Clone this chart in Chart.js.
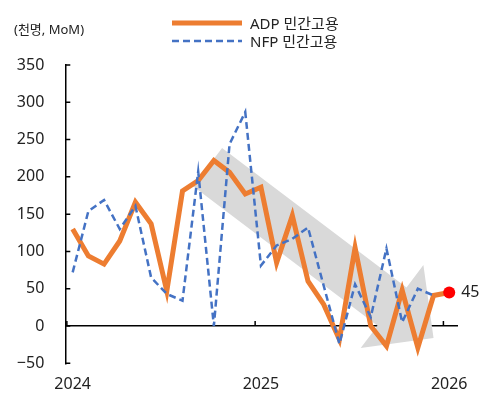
<!DOCTYPE html>
<html>
<head>
<meta charset="utf-8">
<script src="https://cdn.jsdelivr.net/npm/chart.js@4.4.1/dist/chart.umd.min.js"></script>
<style>
  html, body { margin: 0; padding: 0; background: #fff; }
  #wrap { position: relative; width: 492px; height: 402px; font-family: 'Noto Sans', 'Noto Sans CJK KR', sans-serif; color: #222; }
  #unit { position: absolute; left: 14px; top: 20px; font-size: 13px; line-height: 18px; }
  #legend { position: absolute; left: 172px; top: 13.5px; font-size: 15px; }
  .item { display: flex; align-items: center; height: 18.3px; white-space: nowrap; }
  .item svg { margin-right: 8px; }
</style>
</head>
<body>
<div id="wrap">
  <canvas id="chart"></canvas>
  <div id="unit">(천명, MoM)</div>
  <div id="legend"></div>
</div>
<script>
// monthly, 2024-01 .. 2026-01 (천명, MoM)
const MONTHS = ['2024-01', '2024-02', '2024-03', '2024-04', '2024-05', '2024-06', '2024-07', '2024-08', '2024-09',
  '2024-10', '2024-11', '2024-12', '2025-01', '2025-02', '2025-03', '2025-04', '2025-05', '2025-06', '2025-07',
  '2025-08', '2025-09', '2025-10', '2025-11', '2025-12', '2026-01'];
const ADP = [130, 94, 83, 114, 166, 137, 47, 181, 195, 222, 206, 177, 186, 85, 148, 60, 29, -18, 105, 0, -27, 48, -29, 41, 45];
const NFP = [72, 154, 169, 130, 161, 65, 43, 34, 207, 0, 244, 287, 81, 108, 117, 132, 54, -24, 56, 12, 104, 5, 50, 41];
const YEAR_LABELS = ['2024', '2025', '2026'];
const Y_TICKS = [-50, 0, 50, 100, 150, 200, 250, 300, 350];
// trend arrow, [month index, value]
const ARROW_FROM = [8.6, 213];
const ARROW_TO = [23, -16];

const ORANGE = '#ed7d31';
const BLUE = '#4472c4';
const INK = '#222';
const FONT = "'Noto Sans', 'Noto Sans CJK KR', sans-serif";

Chart.defaults.font.family = FONT;
Chart.defaults.color = INK;

const points = arr => arr.map((v, i) => ({ x: i, y: v }));
const last = ADP.length - 1;

const decorations = {
  id: 'decorations',
  beforeDatasetsDraw(chart) {
    const { ctx, chartArea } = chart;
    const xs = chart.scales.x, ys = chart.scales.y;

    // grey arrow behind the lines
    const x0 = xs.getPixelForValue(ARROW_FROM[0]), y0 = ys.getPixelForValue(ARROW_FROM[1]);
    const x1 = xs.getPixelForValue(ARROW_TO[0]), y1 = ys.getPixelForValue(ARROW_TO[1]);
    const len = Math.hypot(x1 - x0, y1 - y0);
    const shaft = 24, headLen = 52, headW = 52;
    ctx.save();
    ctx.translate(x0, y0);
    ctx.rotate(Math.atan2(y1 - y0, x1 - x0));
    ctx.beginPath();
    ctx.moveTo(0, -shaft);
    ctx.lineTo(len - headLen, -shaft);
    ctx.lineTo(len - headLen, -headW);
    ctx.lineTo(len, 0);
    ctx.lineTo(len - headLen, headW);
    ctx.lineTo(len - headLen, shaft);
    ctx.lineTo(0, shaft);
    ctx.closePath();
    ctx.fillStyle = '#d9d9d9';
    ctx.fill();
    ctx.restore();

    // inward tick marks
    ctx.save();
    ctx.strokeStyle = '#000';
    ctx.lineWidth = 1.5;
    ctx.beginPath();
    ys.ticks.forEach(t => {
      const py = ys.getPixelForValue(t.value);
      ctx.moveTo(chartArea.left, py);
      ctx.lineTo(chartArea.left + 5, py);
    });
    const zero = ys.getPixelForValue(0);
    xs.ticks.forEach(t => {
      const px = xs.getPixelForValue(t.value - 0.37);
      ctx.moveTo(px, zero);
      ctx.lineTo(px, zero - 5);
    });
    ctx.stroke();
    ctx.restore();
  },
  afterDatasetsDraw(chart) {
    const { ctx } = chart;
    const pt = chart.getDatasetMeta(0).data[last];
    ctx.save();
    ctx.font = '16px ' + FONT;
    ctx.fillStyle = INK;
    ctx.textAlign = 'left';
    ctx.textBaseline = 'middle';
    ctx.fillText(String(ADP[last]), pt.x + 12, pt.y);
    ctx.restore();
  },
};

const chart = new Chart(document.getElementById('chart'), {
  type: 'line',
  data: {
    datasets: [
      {
        label: 'ADP 민간고용',
        data: points(ADP),
        borderColor: ORANGE,
        backgroundColor: ORANGE,
        borderWidth: 5,
        tension: 0,
        order: 1,
        pointRadius: ctx => (ctx.dataIndex === last ? 6 : 0),
        pointBackgroundColor: '#ff0000',
        pointBorderWidth: 0,
        pointHoverRadius: 0,
      },
      {
        label: 'NFP 민간고용',
        data: points(NFP),
        borderColor: BLUE,
        backgroundColor: BLUE,
        borderWidth: 2.5,
        borderDash: [7, 4],
        tension: 0,
        order: 0,
        pointRadius: 0,
        pointHoverRadius: 0,
      },
    ],
  },
  options: {
    responsive: true,
    maintainAspectRatio: false,
    animation: false,
    events: [],
    layout: { padding: { top: 65, right: 34, bottom: 7, left: 17 } },
    plugins: {
      legend: { display: false, labels: { sort: (a, b) => a.datasetIndex - b.datasetIndex } },
      tooltip: { enabled: false },
    },
    scales: {
      x: {
        type: 'linear',
        min: -0.47,
        max: 24.56,
        grid: { display: false, drawTicks: false },
        border: { display: false },
        afterBuildTicks: scale => {
          scale.ticks = YEAR_LABELS.map(y => ({ value: MONTHS.indexOf(y + '-01') }));
        },
        afterFit: scale => { scale.height = 31.7; },
        ticks: {
          font: { size: 16 },
          padding: 12,
          maxRotation: 0,
          autoSkip: false,
          callback: (v, i) => YEAR_LABELS[i],
        },
      },
      y: {
        min: Y_TICKS[0],
        max: Y_TICKS[Y_TICKS.length - 1],
        grid: {
          color: ctx => (ctx.tick && ctx.tick.value === 0 ? '#000' : 'rgba(0,0,0,0)'),
          lineWidth: 1.5,
          drawTicks: false,
        },
        border: { color: '#000', width: 1.5 },
        afterFit: scale => { scale.width = 48.3; },
        ticks: {
          stepSize: Y_TICKS[1] - Y_TICKS[0],
          font: { size: 16 },
          padding: 21,
          callback: v => (v < 0 ? '\u2212' + Math.abs(v) : String(v)),
        },
      },
    },
  },
  plugins: [decorations],
});

// legend built from the chart's own legend items
const items = chart.options.plugins.legend.labels.generateLabels(chart)
  .sort((a, b) => a.datasetIndex - b.datasetIndex);
document.getElementById('legend').innerHTML = items.map(it =>
  `<div class="item"><svg width="70" height="8"><line x1="0" y1="4" x2="70" y2="4" stroke="${it.strokeStyle}"` +
  ` stroke-width="${it.lineWidth}" stroke-dasharray="${(it.lineDash || []).join(' ')}"/></svg>${it.text}</div>`
).join('');
</script>
</body>
</html>
